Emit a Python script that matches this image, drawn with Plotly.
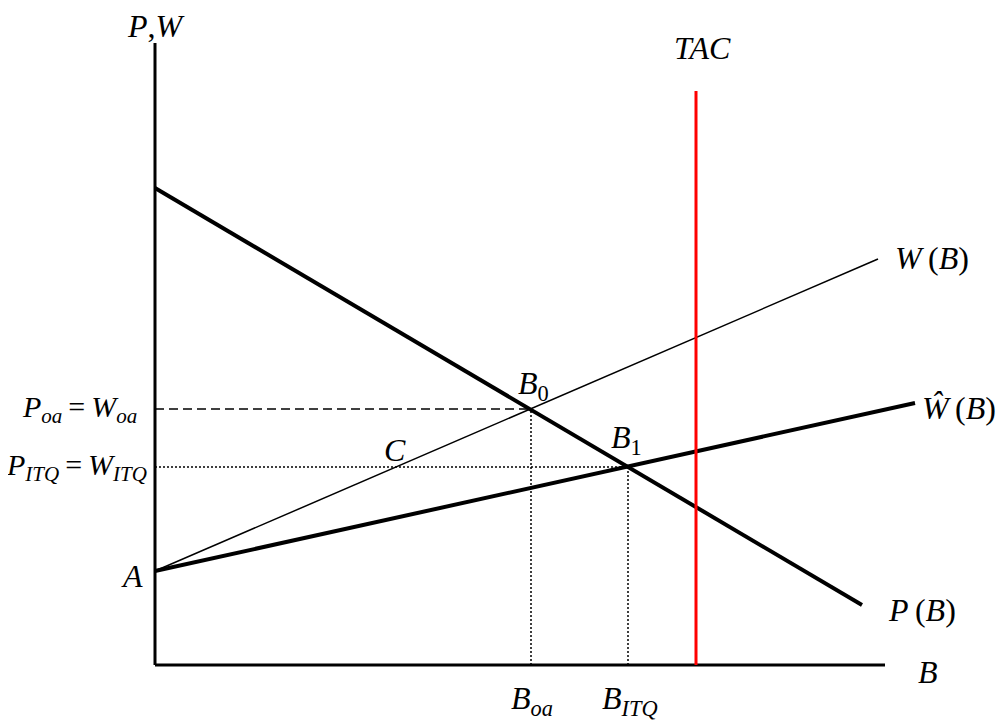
import plotly.graph_objects as go

# curve end points (B, value) in arbitrary model units
axis_x = [0, 73]
axis_y = [0, 62.2]
p_curve_b = [0, 70.7]
p_curve_v = [47.7, 6.0]
w_curve_b = [0, 72.3]
w_curve_v = [9.4, 40.6]
what_curve_b = [0, 76]
what_curve_v = [9.4, 26.2]
tac_b = 54.1
tac_top = 57.4
b0 = (37.6, 25.6)
b1 = (47.3, 19.8)

FONT = "Liberation Serif"
FS = 32
TS = "\u2009"  # thin space, like the equation editor spacing

fig = go.Figure()

def line(x, y, width, color="black", dash="solid"):
    fig.add_trace(go.Scatter(x=x, y=y, mode="lines", hoverinfo="skip",
                             line=dict(color=color, width=width, dash=dash)))

# axes
line([axis_x[0], axis_x[1]], [0, 0], 3)
line([0, 0], [axis_y[0], axis_y[1]], 3)

# guide lines
line([0, b0[0]], [b0[1], b0[1]], 1.5, dash="9px,5px")
line([b0[0], b0[0]], [0, b0[1]], 1.5, dash="2px,2px")
line([0, b1[0]], [b1[1], b1[1]], 1.5, dash="2px,2px")
line([b1[0], b1[0]], [0, b1[1]], 1.5, dash="2px,2px")

# curves
line(w_curve_b, w_curve_v, 1.5)
line(what_curve_b, what_curve_v, 4)
line(p_curve_b, p_curve_v, 4)
line([tac_b, tac_b], [0, tac_top], 3, color="red")

labels = [
    (0.1, 63.9, "<i>P</i>,<i>W</i>", "center", FS),
    (tac_b + 0.6, 61.7, "<i>TAC</i>", "center", FS),
    (73.8, 40.7, f"<i>W</i>{TS}(<i>B</i>)", "left", FS),
    (76.5, 25.7, f"<i>Ŵ</i>{TS}(<i>B</i>)", "left", FS),
    (73.1, 5.5, f"<i>P</i>{TS}(<i>B</i>)", "left", FS),
    (77.3, -0.7, "<i>B</i>", "center", FS),
    (b0[0] + 0.1, -3.5, "<i>B<sub>oa</sub></i>", "center", FS),
    (b1[0] + 0.2, -3.5, "<i>B<sub>ITQ</sub></i>", "center", FS),
    (-7.6, 25.6, f"<i>P<sub>oa</sub></i>{TS}={TS}<i>W<sub>oa</sub></i>", "center", 30),
    (-7.9, 19.8, f"<i>P<sub>ITQ</sub></i>{TS}={TS}<i>W<sub>ITQ</sub></i>", "center", 30),
    (-2.3, 8.9, "<i>A</i>", "center", FS),
    (24.0, 21.5, "<i>C</i>", "center", FS),
    (b0[0] + 0.2, 28.0, "<i>B</i><sub>0</sub>", "center", FS),
    (b1[0] - 0.2, 22.6, "<i>B</i><sub>1</sub>", "center", FS),
]
for x, y, t, anchor, size in labels:
    fig.add_annotation(x=x, y=y, text=t, showarrow=False, xanchor=anchor,
                       yanchor="middle", font=dict(family=FONT, size=size, color="black"))

# the page body adds an 8px margin, so the ranges are shifted to compensate
fig.update_layout(
    width=1006, height=725,
    margin=dict(l=0, r=0, t=0, b=0),
    plot_bgcolor="white", paper_bgcolor="white",
    showlegend=False,
    xaxis=dict(range=[-14.7, 85.9], visible=False, fixedrange=True),
    yaxis=dict(range=[-6.8, 65.7], visible=False, fixedrange=True),
)

fig.write_html("out.html", config={"displayModeBar": False})
